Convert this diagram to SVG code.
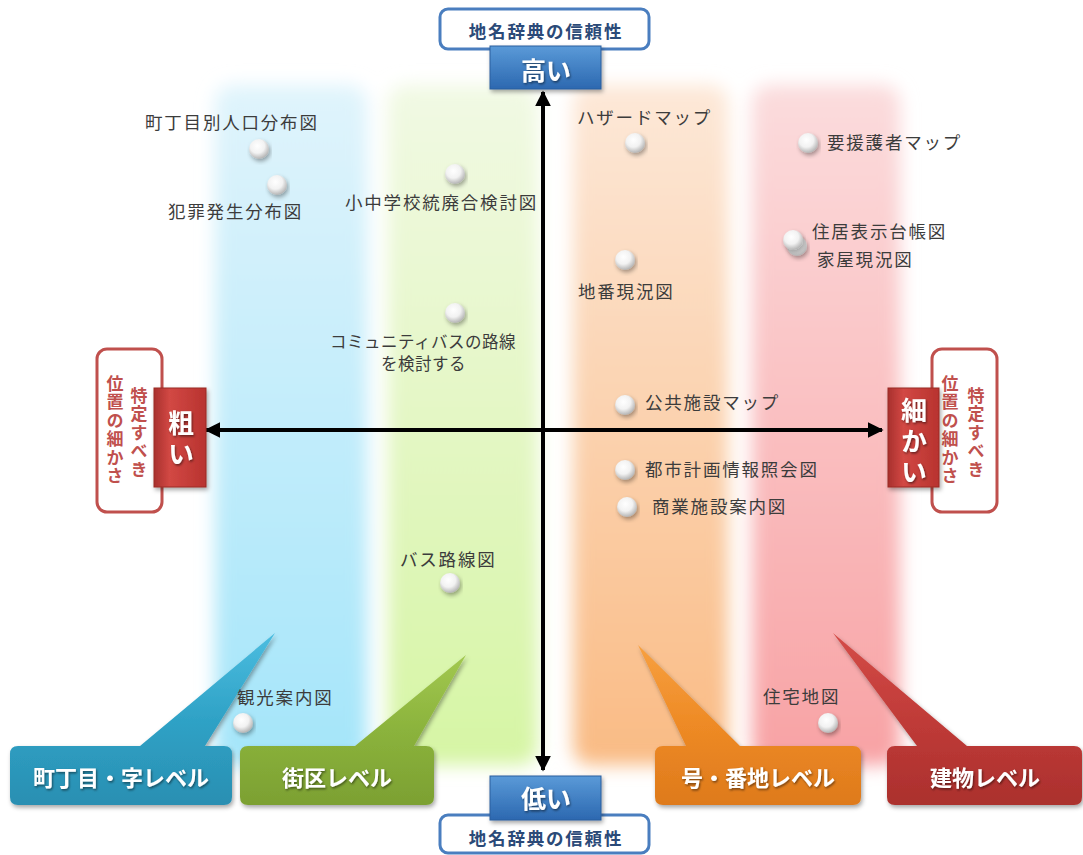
<svg xmlns="http://www.w3.org/2000/svg" width="1083" height="855" viewBox="0 0 1083 855">
<defs>
  <filter id="blur" x="-20%" y="-10%" width="140%" height="120%"><feGaussianBlur stdDeviation="9"/></filter>
  <filter id="sh" x="-10%" y="-10%" width="125%" height="140%"><feDropShadow dx="1.5" dy="2.5" stdDeviation="2" flood-color="#000" flood-opacity="0.35"/></filter>
  <filter id="tsh" x="-10%" y="-20%" width="120%" height="150%"><feDropShadow dx="1" dy="1.5" stdDeviation="1" flood-color="#000" flood-opacity="0.5"/></filter>
  <linearGradient id="gBlue" x1="0" y1="0" x2="0" y2="1"><stop offset="0" stop-color="#e0f4fc"/><stop offset="1" stop-color="#a4e5f9"/></linearGradient>
  <linearGradient id="gGreen" x1="0" y1="0" x2="0" y2="1"><stop offset="0" stop-color="#f1f9e4"/><stop offset="1" stop-color="#d6f5a4"/></linearGradient>
  <linearGradient id="gOrange" x1="0" y1="0" x2="0" y2="1"><stop offset="0" stop-color="#fde8d8"/><stop offset="1" stop-color="#f9bb84"/></linearGradient>
  <linearGradient id="gPink" x1="0" y1="0" x2="0" y2="1"><stop offset="0" stop-color="#fbdcdd"/><stop offset="1" stop-color="#f8a2a4"/></linearGradient>
  <linearGradient id="bBlue" x1="0" y1="0" x2="0" y2="1"><stop offset="0" stop-color="#5a9ad8"/><stop offset="1" stop-color="#2c68b0"/></linearGradient>
  <linearGradient id="bRed" x1="0" y1="0" x2="1" y2="0"><stop offset="0" stop-color="#a8302d"/><stop offset="0.3" stop-color="#d24844"/><stop offset="1" stop-color="#b8332f"/></linearGradient>
  <linearGradient id="cBlue" x1="0" y1="0" x2="0" y2="1"><stop offset="0" stop-color="#4cbde0"/><stop offset="0.5" stop-color="#2fa2c6"/><stop offset="1" stop-color="#2a8fb2"/></linearGradient>
  <linearGradient id="cGreen" x1="0" y1="0" x2="0" y2="1"><stop offset="0" stop-color="#a2c850"/><stop offset="0.5" stop-color="#8bb33c"/><stop offset="1" stop-color="#7ca032"/></linearGradient>
  <linearGradient id="cOrange" x1="0" y1="0" x2="0" y2="1"><stop offset="0" stop-color="#f7a040"/><stop offset="0.5" stop-color="#ee8a25"/><stop offset="1" stop-color="#de7a1c"/></linearGradient>
  <linearGradient id="cRed" x1="0" y1="0" x2="0" y2="1"><stop offset="0" stop-color="#d44c48"/><stop offset="0.5" stop-color="#c03b38"/><stop offset="1" stop-color="#ab302d"/></linearGradient>
  <radialGradient id="dot" cx="0.42" cy="0.35" r="0.65"><stop offset="0" stop-color="#ffffff"/><stop offset="0.55" stop-color="#f2f2f2"/><stop offset="1" stop-color="#b4b4b4"/></radialGradient>
  <marker id="ah" viewBox="0 0 10 10" refX="9" refY="5" markerWidth="4" markerHeight="4" orient="auto-start-reverse"><path d="M0,0 L10,5 L0,10 z" fill="#000"/></marker>
  <style>
    .lbl{font-family:"Noto Sans CJK JP","Liberation Sans",sans-serif;font-size:17.5px;fill:#3c3c3c;letter-spacing:1.8px}
    .lbs{font-family:"Noto Sans CJK JP","Liberation Sans",sans-serif;font-size:16.5px;fill:#3c3c3c;letter-spacing:0.5px}
    .hdr{font-family:"Noto Sans CJK JP","Liberation Sans",sans-serif;font-size:17.5px;font-weight:bold;fill:#2b4a78;letter-spacing:1.8px}
    .big{font-family:"Noto Sans CJK JP","Liberation Sans",sans-serif;font-weight:bold;fill:#fff}
    .vt{font-family:"Noto Sans CJK JP","Liberation Sans",sans-serif;font-size:17px;font-weight:bold;fill:#c0504d;writing-mode:vertical-rl;letter-spacing:1.5px}
    .vb{font-family:"Noto Sans CJK JP","Liberation Sans",sans-serif;font-size:26px;font-weight:bold;fill:#fff;writing-mode:vertical-rl;letter-spacing:5px}
    .ol{fill:#fff;stroke-width:3}
  </style>
</defs>
<rect width="1083" height="855" fill="#fff"/>
<g id="columns" filter="url(#blur)">
  <rect x="215" y="85" width="152" height="680" rx="18" fill="url(#gBlue)"/>
  <rect x="388" y="85" width="150" height="680" rx="18" fill="url(#gGreen)"/>
  <rect x="573" y="85" width="155" height="680" rx="18" fill="url(#gOrange)"/>
  <rect x="752" y="85" width="148" height="680" rx="18" fill="url(#gPink)"/>
</g>
<g id="connectors" stroke="#000" stroke-width="4" fill="none">
  <line x1="543" y1="770" x2="543" y2="92" marker-end="url(#ah)" marker-start="url(#ah)"/>
  <line x1="206" y1="430" x2="882" y2="430" marker-end="url(#ah)" marker-start="url(#ah)"/>
</g>
<g id="top-axis-label">
  <rect class="ol" x="440" y="9" width="209" height="40" rx="8" stroke="#4a7ebf"/>
  <text class="hdr" x="546" y="38" text-anchor="middle">地名辞典の信頼性</text>
  <rect x="490" y="46" width="111" height="43" fill="url(#bBlue)" stroke="#2a5e9e" stroke-width="1" filter="url(#sh)"/>
  <text class="big" x="546" y="80" font-size="25" text-anchor="middle" filter="url(#tsh)">高い</text>
</g>
<g id="bottom-axis-label">
  <rect class="ol" x="440" y="815" width="209" height="38" rx="8" stroke="#4a7ebf"/>
  <text class="hdr" x="546" y="845" text-anchor="middle">地名辞典の信頼性</text>
  <rect x="490" y="776" width="111" height="44" fill="url(#bBlue)" stroke="#2a5e9e" stroke-width="1" filter="url(#sh)"/>
  <text class="big" x="546" y="808" font-size="25" text-anchor="middle" filter="url(#tsh)">低い</text>
</g>
<g id="left-label">
  <rect class="ol" x="97" y="349" width="65" height="163" rx="10" stroke="#c0504d"/>
  <text class="vt" x="115" y="375">位置の細かさ</text>
  <text class="vt" x="139" y="387">特定すべき</text>
  <rect x="154" y="388" width="52" height="99" fill="url(#bRed)" stroke="#9a2a27" stroke-width="1" filter="url(#sh)"/>
  <text class="vb" x="181" y="410" filter="url(#tsh)">粗い</text>
</g>
<g id="right-label">
  <rect class="ol" x="932" y="349" width="65" height="163" rx="10" stroke="#c0504d"/>
  <text class="vt" x="950" y="375">位置の細かさ</text>
  <text class="vt" x="976" y="387">特定すべき</text>
  <rect x="888" y="388" width="51" height="99" fill="url(#bRed)" stroke="#9a2a27" stroke-width="1" filter="url(#sh)"/>
  <text class="vb" x="914" y="397" font-size="25" filter="url(#tsh)">細かい</text>
</g>
<g id="cb-town" filter="url(#sh)">
  <path d="M18,746 L140,746 L275,633 L205,746 L224,746 Q232,746 232,754 L232,797 Q232,805 224,805 L18,805 Q10,805 10,797 L10,754 Q10,746 18,746 Z" fill="url(#cBlue)"/>
  <text class="big" x="121" y="786" font-size="22" text-anchor="middle" filter="url(#tsh)">町丁目・字レベル</text>
</g>
<g id="cb-block" filter="url(#sh)">
  <path d="M248,746 L355,746 L466,655 L414,746 L426,746 Q434,746 434,754 L434,797 Q434,805 426,805 L248,805 Q240,805 240,797 L240,754 Q240,746 248,746 Z" fill="url(#cGreen)"/>
  <text class="big" x="337" y="786" font-size="22" text-anchor="middle" filter="url(#tsh)">街区レベル</text>
</g>
<g id="cb-lot" filter="url(#sh)">
  <path d="M663,746 L686,746 L638,645 L740,746 L853,746 Q861,746 861,754 L861,797 Q861,805 853,805 L663,805 Q655,805 655,797 L655,754 Q655,746 663,746 Z" fill="url(#cOrange)"/>
  <text class="big" x="758" y="786" font-size="22" text-anchor="middle" filter="url(#tsh)">号・番地レベル</text>
</g>
<g id="cb-building" filter="url(#sh)">
  <path d="M895,746 L917,746 L833,633 L967,746 L1074,746 Q1082,746 1082,754 L1082,797 Q1082,805 1074,805 L895,805 Q887,805 887,797 L887,754 Q887,746 895,746 Z" fill="url(#cRed)"/>
  <text class="big" x="985" y="786" font-size="22" text-anchor="middle" filter="url(#tsh)">建物レベル</text>
</g>
<g id="n1"><circle cx="259" cy="149" r="10" fill="url(#dot)" filter="url(#sh)"/><text class="lbl" x="145" y="129">町丁目別人口分布図</text></g>
<g id="n2"><circle cx="277" cy="185" r="10" fill="url(#dot)" filter="url(#sh)"/><text class="lbl" x="168" y="218">犯罪発生分布図</text></g>
<g id="n3"><circle cx="455" cy="174" r="10" fill="url(#dot)" filter="url(#sh)"/><text class="lbl" x="345" y="209">小中学校統廃合検討図</text></g>
<g id="n4"><circle cx="455" cy="313" r="10" fill="url(#dot)" filter="url(#sh)"/><text class="lbs" x="330" y="348">コミュニティバスの路線</text><text class="lbs" x="381" y="370">を検討する</text></g>
<g id="n5"><circle cx="635" cy="143" r="10" fill="url(#dot)" filter="url(#sh)"/><text class="lbl" x="577" y="124">ハザードマップ</text></g>
<g id="n6"><circle cx="808" cy="143" r="10" fill="url(#dot)" filter="url(#sh)"/><text class="lbl" x="827" y="149">要援護者マップ</text></g>
<g id="n7"><circle cx="797" cy="246" r="10" fill="url(#dot)" filter="url(#sh)"/><circle cx="793" cy="240" r="10" fill="url(#dot)" filter="url(#sh)"/><text class="lbl" x="812" y="238">住居表示台帳図</text><text class="lbl" x="817" y="266">家屋現況図</text></g>
<g id="n8"><circle cx="625" cy="260" r="10" fill="url(#dot)" filter="url(#sh)"/><text class="lbl" x="578" y="298">地番現況図</text></g>
<g id="n9"><circle cx="625" cy="405" r="10" fill="url(#dot)" filter="url(#sh)"/><text class="lbl" x="645" y="409">公共施設マップ</text></g>
<g id="n10"><circle cx="625" cy="470" r="10" fill="url(#dot)" filter="url(#sh)"/><text class="lbl" x="645" y="476">都市計画情報照会図</text></g>
<g id="n11"><circle cx="627" cy="507" r="10" fill="url(#dot)" filter="url(#sh)"/><text class="lbl" x="652" y="513">商業施設案内図</text></g>
<g id="n12"><circle cx="450" cy="583" r="10" fill="url(#dot)" filter="url(#sh)"/><text class="lbl" x="400" y="566">バス路線図</text></g>
<g id="n13"><circle cx="243" cy="723" r="10" fill="url(#dot)" filter="url(#sh)"/><text class="lbl" x="237" y="704">観光案内図</text></g>
<g id="n14"><circle cx="828" cy="723" r="10" fill="url(#dot)" filter="url(#sh)"/><text class="lbl" x="763" y="703">住宅地図</text></g>
</svg>
